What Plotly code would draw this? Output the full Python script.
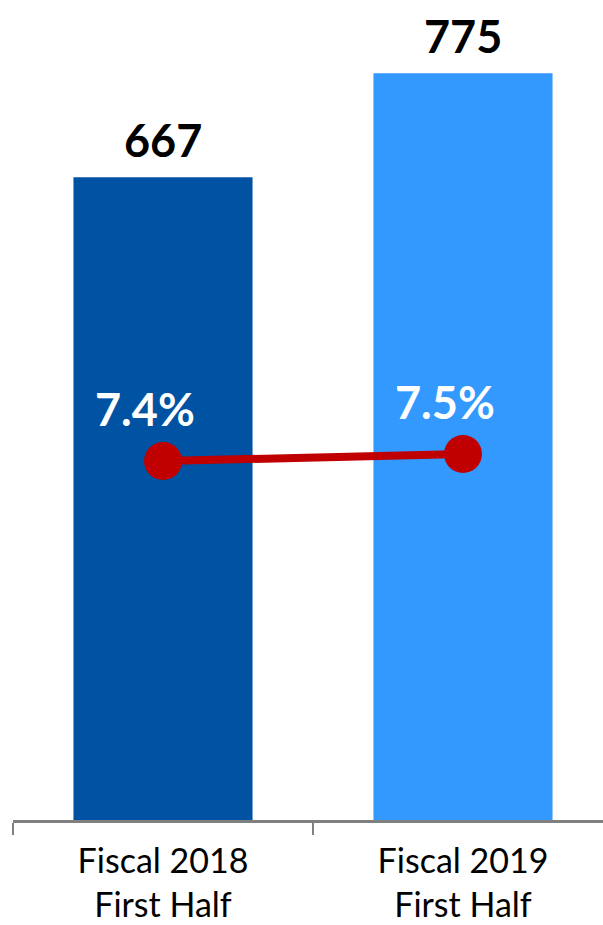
import plotly.graph_objects as go

# Half-year figures
periods = ["Fiscal 2018<br>First Half", "Fiscal 2019<br>First Half"]
amounts = [667, 775]
margins_pct = [7.4, 7.5]
bar_colors = ["#0052A3", "#3399FF"]

fig = go.Figure()

fig.add_trace(go.Bar(
    x=periods, y=amounts,
    marker=dict(color=bar_colors, line=dict(width=0)),
    width=0.597,
    showlegend=False,
))

fig.add_trace(go.Scatter(
    x=periods, y=margins_pct, yaxis="y2",
    mode="lines+markers",
    line=dict(color="#C00000", width=8),
    marker=dict(color="#C00000", size=38),
    cliponaxis=False,
    showlegend=False,
))

# Value labels above each bar
for p, v in zip(periods, amounts):
    fig.add_annotation(
        x=p, y=v, xref="x", yref="y",
        text=f"<b>{v}</b>", showarrow=False,
        yanchor="bottom",
        font=dict(family="Lato", size=45, color="black"),
        yshift=8,
    )

# Percentage labels sit above and slightly left of each marker
for p, m in zip(periods, margins_pct):
    fig.add_annotation(
        x=p, y=m, xref="x", yref="y2",
        text=f"<b>{m:.1f}%</b>", showarrow=False,
        font=dict(family="Lato", size=45, color="white"),
        xshift=-18, yshift=52,
    )

fig.update_layout(
    width=603, height=925,
    margin=dict(l=13, r=0, t=0, b=105, autoexpand=False),
    paper_bgcolor="white", plot_bgcolor="white",
    xaxis=dict(
        range=[-0.5, 1.4667],
        automargin=False,
        showline=True, linecolor="#808080", linewidth=3,
        ticks="outside", tickson="boundaries", ticklen=12,
        tickcolor="#808080", tickwidth=2,
        tickfont=dict(family="Lato", size=34, color="black"),
        ticklabelstandoff=9,
        showgrid=False, zeroline=False,
    ),
    yaxis=dict(range=[0, 851], visible=False, automargin=False,
               showgrid=False, zeroline=False),
    yaxis2=dict(range=[2.2714, 13.986], overlaying="y", visible=False,
                automargin=False, showgrid=False, zeroline=False),
)

fig.write_html("out.html")
